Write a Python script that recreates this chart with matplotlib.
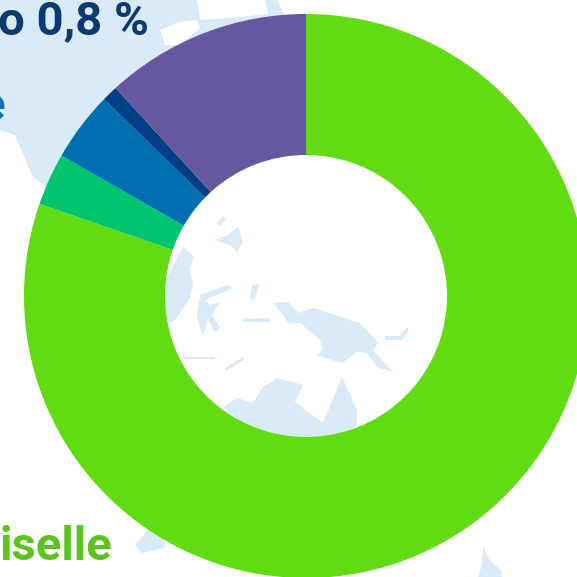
import matplotlib
matplotlib.use("Agg")
import matplotlib.pyplot as plt
from matplotlib.patches import Polygon

# Data: shares in percent, clockwise from 12 o'clock
categories = ["Vert", "Turquoise", "Bleu", "Bleu fonce", "Violet"]
values = [80.3, 3.0, 4.0, 0.9, 11.8]
colors = ["#62DC12", "#00C46E", "#006FB2", "#003F86", "#65589F"]

label_texts = ["o 0,8 %", "e", "iselle"]
label_colors = ["#0B3A70", "#0A72B8", "#5DC41F"]
label_x = [-2, -21, -1]
label_y = [34, 120, 560]

LAND = "#D9EAF9"
land_shapes = [
    # top-left landmass, running under the ring
    [(0, 0), (306, 0), (306, 100), (60, 200), (42, 184), (32, 176), (25, 158), (15, 135), (0, 130)],
    # inside the ring
    [(183, 247), (194, 257), (190, 268), (193, 285), (190, 298), (175, 320), (168, 323), (160, 290)],
    [(238, 227), (243, 242), (237, 252), (230, 245), (215, 240), (228, 235)],
    [(217, 223), (223, 216), (226, 219), (220, 226)],
    [(200, 295), (228, 285), (233, 288), (205, 300), (210, 305), (220, 302), (212, 315),
     (220, 328), (214, 332), (208, 318), (203, 336), (197, 318)],
    [(273, 303), (288, 302), (298, 313), (313, 308), (360, 323), (378, 343), (373, 350),
     (393, 372), (377, 367), (367, 353), (357, 352), (342, 363), (323, 357), (317, 355),
     (323, 350), (320, 340), (300, 323), (288, 323), (283, 315)],
    [(385, 336), (400, 336), (407, 327), (409, 330), (402, 340), (386, 340)],
    [(225, 368), (243, 357), (244, 360), (226, 371)],
    [(243, 319), (270, 318), (270, 322), (243, 322)],
    [(183, 357), (215, 357), (215, 359), (183, 359)],
    [(252, 285), (260, 284), (254, 300), (250, 298)],
    # southern landmass
    [(223, 407), (237, 398), (253, 403), (263, 387), (278, 378), (303, 385), (295, 402),
     (323, 423), (342, 377), (357, 410), (357, 425), (340, 445), (270, 445)],
    # lower-left and lower-right pieces
    [(148, 530), (165, 520), (165, 548), (142, 553), (135, 545)],
    [(483, 547), (488, 558), (502, 572), (502, 577), (478, 577), (482, 565)],
]
# Paper-coloured gaps in the map at the top of the picture
gap_shapes = [
    [(160, 30), (180, 22), (197, 20), (200, 28), (180, 45), (165, 45)],
    [(197, 0), (265, 0), (268, 14), (230, 18), (200, 20)],
    [(277, 0), (306, 0), (306, 14), (285, 16)],
]

fig = plt.figure(figsize=(5.77, 5.77), dpi=100, facecolor="white")

# Page-pixel layer for the map backdrop
bg = fig.add_axes([0, 0, 1, 1], zorder=0)
bg.set_xlim(0, 577)
bg.set_ylim(577, 0)
bg.axis("off")
for shape in land_shapes:
    bg.add_patch(Polygon(shape, closed=True, facecolor=LAND, edgecolor="none"))
for shape in gap_shapes:
    bg.add_patch(Polygon(shape, closed=True, facecolor="white", edgecolor="none"))

# Donut: centre (306, 296), outer radius 282 px
cx, cy, r = 306, 296, 282
ax = fig.add_axes([(cx - r) / 577, (577 - cy - r) / 577, 2 * r / 577, 2 * r / 577], zorder=1)
ax.patch.set_alpha(0)
ax.pie(values, colors=colors, startangle=90, counterclock=False, radius=1.0,
       wedgeprops=dict(width=0.5, edgecolor="none"))
ax.set_xlim(-1, 1)
ax.set_ylim(-1, 1)
ax.set_aspect("equal")

# Captions are cropped by the left edge of the picture
for txt, col, x, y in zip(label_texts, label_colors, label_x, label_y):
    fig.text(x / 577, 1 - y / 577, txt, color=col, va="baseline", ha="left",
             fontfamily="Roboto", fontweight="bold", fontsize=34, zorder=3)

fig.savefig("out.png", dpi=100, facecolor="white")
